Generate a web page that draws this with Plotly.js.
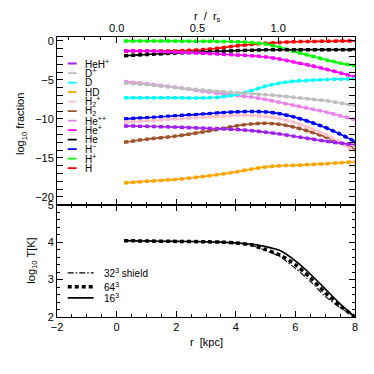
<!DOCTYPE html>
<html>
<head>
<meta charset="utf-8">
<script src="https://cdn.plot.ly/plotly-3.0.1.min.js"></script>
<style>
  html, body { margin: 0; padding: 0; background: #fff; }
  #chart { width: 374px; height: 374px; }
</style>
</head>
<body>
<div id="chart"></div>
<script>
// radius grid in kpc
const R = [0.25, 1, 2, 3, 3.5, 4, 4.5, 5, 5.5, 6, 6.5, 7, 7.5, 8];

// log10 fraction per species
const fH    = [-1.3, -1.3, -1.28, -1.1, -0.9, -0.65, -0.45, -0.3, -0.2, -0.1, -0.07, -0.05, -0.02, 0];
const fHp   = [-0.02, -0.02, -0.03, -0.05, -0.07, -0.1, -0.2, -0.4, -0.85, -1.4, -1.9, -2.4, -2.85, -3.2];
const fHm   = [-10.0, -9.85, -9.6, -9.35, -9.2, -9.1, -9.05, -9.1, -9.35, -9.8, -10.4, -11.1, -11.95, -12.9];
const fHe   = [-1.9, -1.75, -1.55, -1.4, -1.32, -1.25, -1.2, -1.15, -1.13, -1.12, -1.12, -1.12, -1.12, -1.12];
const fHep  = [-1.25, -1.3, -1.45, -1.6, -1.7, -1.8, -1.9, -2.05, -2.35, -2.75, -3.15, -3.6, -4.1, -4.6];
const fHepp = [-5.2, -5.5, -5.95, -6.5, -6.75, -7.0, -7.2, -7.5, -7.9, -8.3, -8.7, -9.1, -9.6, -10.1];
const fH2   = [-13.0, -12.6, -12.2, -11.6, -11.25, -10.9, -10.65, -10.55, -10.7, -11.1, -11.65, -12.3, -13.05, -13.9];
const fH2p  = [-10.4, -10.25, -10.0, -9.75, -9.65, -9.55, -9.55, -9.7, -10.0, -10.5, -11.2, -12.0, -13.0, -14.2];
const fHD   = [-18.2, -18.0, -17.75, -17.35, -17.1, -16.8, -16.45, -16.15, -16.0, -15.95, -15.85, -15.75, -15.62, -15.5];
const fD    = [-7.3, -7.3, -7.3, -7.3, -7.2, -6.9, -6.4, -5.8, -5.4, -5.15, -5.05, -4.95, -4.9, -4.85];
const fDp   = [-5.4, -5.6, -6.0, -6.35, -6.5, -6.65, -6.77, -6.9, -7.05, -7.25, -7.45, -7.65, -7.95, -8.3];
const fHeHp = [-10.9, -10.95, -11.05, -11.2, -11.27, -11.35, -11.5, -11.7, -11.95, -12.25, -12.55, -12.85, -13.1, -13.3];

// log10 temperature per run
const T16  = [4.04, 4.03, 4.02, 4.01, 4.0, 3.98, 3.95, 3.88, 3.77, 3.5, 3.15, 2.75, 2.35, 2.0];
const T64  = [4.04, 4.03, 4.02, 4.01, 4.0, 3.98, 3.93, 3.8, 3.65, 3.4, 3.05, 2.65, 2.3, 2.0];
const T32s = [4.04, 4.03, 4.02, 4.01, 3.99, 3.97, 3.92, 3.78, 3.6, 3.3, 2.95, 2.55, 2.25, 2.0];

// legend order, top to bottom
const speciesLabels = ['HeH<sup>+</sup>', 'D<sup>+</sup>', 'D', 'HD', 'H<sub>2</sub><sup>+</sup>', 'H<sub>2</sub>',
                       'He<sup>++</sup>', 'He<sup>+</sup>', 'He', 'H<sup>\u2212</sup>', 'H<sup>+</sup>', 'H'];
const speciesColors = ['#a020f0', '#bebebe', '#00ffff', '#ffa500', '#ffc0cb', '#a0522d',
                       '#ee82ee', '#ff00ff', '#000000', '#0000ff', '#00ff00', '#ff0000'];
const speciesData = [fHeHp, fDp, fD, fHD, fH2p, fH2, fHepp, fHep, fHe, fHm, fHp, fH];

const runLabels = ['32<sup>3</sup> shield', '64<sup>3</sup>', '16<sup>3</sup>'];

const RS = 5.42; // kpc, scale radius for top axis

const styleSolid = { width: 1.6 };
const styleDashDot = { width: 1.1, dash: '6px,2px,1.5px,2px' };
const styleDash = { width: 3.5, dash: '4px,3px' };

const traces = [];
// draw from bottom of legend upward so red/green end on top
for (let i = speciesData.length - 1; i >= 0; i--) {
  const c = speciesColors[i];
  [styleSolid, styleDashDot, styleDash].forEach(st => {
    traces.push({
      x: R, y: speciesData[i], xaxis: 'x2', yaxis: 'y',
      type: 'scatter', mode: 'lines', line: Object.assign({ color: c, shape: 'spline', smoothing: 0.6 }, st),
      showlegend: false, hoverinfo: 'skip'
    });
  });
}
[[T16, styleSolid], [T32s, styleDashDot], [T64, styleDash]].forEach(([t, st]) => {
  traces.push({
    x: R, y: t, xaxis: 'x', yaxis: 'y2',
    type: 'scatter', mode: 'lines', line: Object.assign({ color: '#000', shape: 'spline', smoothing: 0.6 }, st),
    showlegend: false, hoverinfo: 'skip'
  });
});
// dummy trace to bring up top axis
traces.push({ x: [0], y: [null], xaxis: 'x3', yaxis: 'y', showlegend: false, hoverinfo: 'skip' });

const font = { family: 'Liberation Sans, Arial, sans-serif', size: 11, color: '#000' };
const legFont = { family: 'Liberation Sans, Arial, sans-serif', size: 10, color: '#000' };
const axBase = {
  showline: true, linecolor: '#000', linewidth: 1, ticks: 'inside', ticklen: 6, tickcolor: '#000',
  showgrid: false, zeroline: false, tickfont: font
};

const shapes = [];
const annotations = [];
// species legend
speciesLabels.forEach((lab, i) => {
  const yy = -2.9 - i * 1.22;
  shapes.push({ type: 'line', xref: 'x2', yref: 'y', x0: -1.64, x1: -1.34, y0: yy, y1: yy,
                line: { color: speciesColors[i], width: 1.8 } });
  annotations.push({ xref: 'x2', yref: 'y', x: -1.14, y: yy, text: lab, showarrow: false,
                     xanchor: 'left', yanchor: 'middle', font: legFont });
});
// run legend
const runY = [3.18, 2.81, 2.51];
const runStyles = [styleDashDot, styleDash, styleSolid];
runLabels.forEach((lab, i) => {
  shapes.push({ type: 'line', xref: 'x', yref: 'y2', x0: -1.64, x1: -0.77, y0: runY[i], y1: runY[i],
                line: Object.assign({ color: '#000' }, runStyles[i]) });
  annotations.push({ xref: 'x', yref: 'y2', x: -0.5, y: runY[i], text: lab, showarrow: false,
                     xanchor: 'left', yanchor: 'middle', font: legFont });
});
// axis titles
annotations.push({ xref: 'paper', yref: 'paper', x: 0.5, y: -0.06, text: 'r  [kpc]', showarrow: false,
                   xanchor: 'center', yanchor: 'top', font: font });
annotations.push({ xref: 'paper', yref: 'paper', x: 0.505, y: 1.04, text: 'r  /  r<sub>s</sub>', showarrow: false,
                   xanchor: 'center', yanchor: 'bottom', font: font });
annotations.push({ xref: 'paper', yref: 'paper', x: -0.12, y: 0.69, text: 'log<sub>10</sub> fraction', showarrow: false,
                   textangle: -90, xanchor: 'center', yanchor: 'middle', font: font });
annotations.push({ xref: 'paper', yref: 'paper', x: -0.085, y: 0.2, text: 'log<sub>10</sub> T[K]', showarrow: false,
                   textangle: -90, xanchor: 'center', yanchor: 'middle', font: font });

const layout = {
  width: 374, height: 374,
  margin: { l: 57, r: 19, t: 37, b: 57 },
  paper_bgcolor: '#fff', plot_bgcolor: '#fff',
  font: font,
  showlegend: false,
  xaxis: Object.assign({}, axBase, {
    anchor: 'y2', range: [-2, 8], dtick: 2, mirror: 'allticks',
    minor: { ticks: 'inside', ticklen: 3, dtick: 0.5, tickcolor: '#000' }
  }),
  xaxis2: Object.assign({}, axBase, {
    anchor: 'y', matches: 'x', range: [-2, 8], dtick: 2, showticklabels: false,
    minor: { ticks: 'inside', ticklen: 3, dtick: 0.5, tickcolor: '#000' }
  }),
  xaxis3: Object.assign({}, axBase, {
    anchor: 'y', overlaying: 'x2', side: 'top', range: [-2 / RS, 8 / RS],
    tickvals: [0, 0.5, 1.0], tickformat: '.1f',
    minor: { ticks: 'inside', ticklen: 3, dtick: 0.1, tickcolor: '#000' }
  }),
  yaxis: Object.assign({}, axBase, {
    domain: [0.401, 1], range: [-21, 0.5], tickvals: [0, -5, -10, -15, -20], mirror: 'allticks',
    minor: { ticks: 'inside', ticklen: 3, dtick: 1, tickcolor: '#000' }
  }),
  yaxis2: Object.assign({}, axBase, {
    domain: [0, 0.401], range: [2, 5], tickvals: [2, 3, 4, 5], mirror: 'allticks',
    minor: { ticks: 'inside', ticklen: 3, dtick: 0.2, tickcolor: '#000' }
  }),
  shapes: shapes,
  annotations: annotations
};

Plotly.newPlot('chart', traces, layout, { staticPlot: true, displayModeBar: false });
</script>
</body>
</html>
